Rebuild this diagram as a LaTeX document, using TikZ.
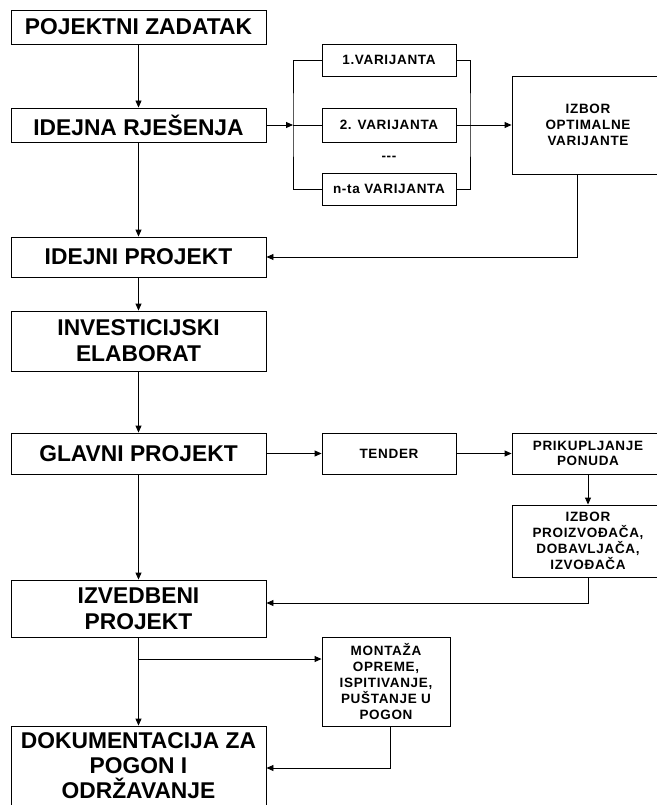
\documentclass[tikz,border=0pt]{standalone}
\usepackage{fontspec}
\setmainfont{Liberation Sans}
\newfontfamily\smallfont[LetterSpace=5]{Liberation Sans}
\usetikzlibrary{arrows.meta}
\tikzstyle{bigbox}=[draw,line width=.9pt,minimum width=255pt,align=center,inner sep=2pt,font=\fontsize{22.8}{26}\selectfont\bfseries]
\tikzstyle{smallbox}=[draw,line width=.9pt,align=center,inner sep=2pt,font=\smallfont\fontsize{13.5}{15.8}\selectfont\bfseries]
\tikzstyle{ln}=[line width=.9pt]
\tikzstyle{arr}=[ln,-{Triangle[length=7pt,width=6pt]}]

\begin{document}
\begin{tikzpicture}[x=1pt,y=-1pt]
	\useasboundingbox (0,0) rectangle (656,805);
	% main column
	\node[bigbox,minimum height=34pt] (zad) at (138.5,27)    {POJEKTNI ZADATAK};
	\node[bigbox,minimum height=34pt] (rje) at (138.5,125)   {IDEJNA RJEŠENJA};
	\node[bigbox,minimum height=40pt] (idp) at (138.5,257)   {IDEJNI PROJEKT};
	\node[bigbox,minimum height=60pt] (inv) at (138.5,341)   {INVESTICIJSKI\\ELABORAT};
	\node[bigbox,minimum height=41pt] (gla) at (138.5,453.5) {GLAVNI PROJEKT};
	\node[bigbox,minimum height=57pt] (izv) at (138.5,608.5) {IZVEDBENI\\PROJEKT};
	\node[bigbox,minimum height=80pt,font=\fontsize{22.8}{25}\selectfont\bfseries] (dok) at (138.5,766) {DOKUMENTACIJA ZA\\POGON I\\ODRŽAVANJE};
	% variants
	\node[smallbox,minimum width=134pt,minimum height=32pt] (v1) at (389,60)  {1.VARIJANTA};
	\node[smallbox,minimum width=134pt,minimum height=34pt] (v2) at (389,125) {2. VARIJANTA};
	\node[font=\smallfont\fontsize{13.5}{15.8}\selectfont\bfseries] (dots) at (389,158) {---};
	\node[smallbox,minimum width=134pt,minimum height=32pt] (vn) at (389,189) {n-ta VARIJANTA};
	\node[smallbox,minimum width=152pt,minimum height=98pt] (izb) at (588,125) {IZBOR\\OPTIMALNE\\VARIJANTE};
	% offers
	\node[smallbox,minimum width=134pt,minimum height=41pt] (ten) at (389,453.5) {TENDER};
	\node[smallbox,minimum width=152pt,minimum height=41pt] (pri) at (588,453.5) {PRIKUPLJANJE\\PONUDA};
	\node[smallbox,minimum width=152pt,minimum height=72pt] (pro) at (588,541)   {IZBOR\\PROIZVOĐAČA,\\DOBAVLJAČA,\\IZVOĐAČA};
	\node[smallbox,minimum width=128pt,minimum height=89pt] (mon) at (386,681.5) {MONTAŽA\\OPREME,\\ISPITIVANJE,\\PUŠTANJE U\\POGON};
	\coordinate (bl) at (293,125);
	\coordinate (br) at (470,125);
	\coordinate (split) at (138.5,659);

	\draw[arr] (zad) -- (rje);
	\draw[arr] (rje) -- (idp);
	\draw[arr] (idp) -- (inv);
	\draw[arr] (inv) -- (gla);
	\draw[arr] (gla) -- (izv);
	\draw[arr] (izv) -- (dok);
	\draw[arr] (rje) -- (bl);
	\draw[ln] (v1.west) -| (bl) |- (vn.west);
	\draw[ln] (bl) -- (v2);
	\draw[ln] (v1.east) -| (br) |- (vn.east);
	\draw[ln] (v2) -- (br);
	\draw[arr] (br) -- (izb);
	\draw[arr] ([xshift=-11pt]izb.south) |- (idp);
	\draw[arr] (gla) -- (ten);
	\draw[arr] (ten) -- (pri);
	\draw[arr] (pri) -- (pro);
	\draw[arr] (pro.south) |- ([yshift=5.5pt]izv.east);
	\draw[arr] (split) -- (split -| mon.west);
	\draw[arr] ([xshift=4pt]mon.south) |- ([yshift=-2pt]dok.east);
\end{tikzpicture}
\end{document}
